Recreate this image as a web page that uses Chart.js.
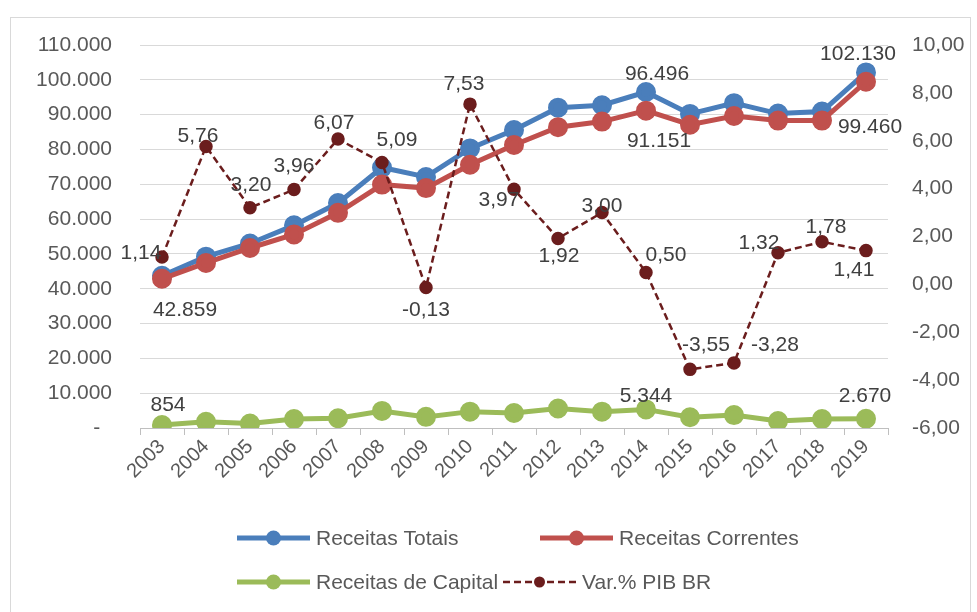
<!DOCTYPE html>
<html>
<head>
<meta charset="utf-8">
<script src="https://cdn.jsdelivr.net/npm/chart.js"></script>
<style>
  html, body { margin: 0; padding: 0; background: #fff; }
  #wrap { width: 977px; height: 612px; }
</style>
</head>
<body>
<div id="wrap"><canvas id="chart" width="977" height="612"></canvas></div>
<script>
// Data - receitas (R$ milhões) and PIB variation, 2003-2019
const years = ['2003', '2004', '2005', '2006', '2007', '2008', '2009', '2010', '2011',
               '2012', '2013', '2014', '2015', '2016', '2017', '2018', '2019'];
const receitasTotais = [43713, 49200, 53000, 58200, 64600, 74800, 72100, 80300, 85600,
                        92000, 92700, 96496, 90200, 93300, 90300, 90900, 102130];
const receitasCorrentes = [42859, 47400, 51700, 55600, 61800, 69900, 68900, 75600, 81300,
                           86400, 88000, 91151, 87100, 89600, 88300, 88300, 99460];
const receitasCapital = [854, 1800, 1300, 2600, 2800, 4900, 3200, 4700, 4300,
                         5600, 4700, 5344, 3100, 3700, 2000, 2600, 2670];
const pibVar = [1.14, 5.76, 3.20, 3.96, 6.07, 5.09, -0.13, 7.53, 3.97,
                1.92, 3.00, 0.50, -3.55, -3.28, 1.32, 1.78, 1.41];

// Axis ranges
const leftMin = 0, leftMax = 110000, leftStep = 10000;
const rightMin = -6, rightMax = 10, rightStep = 2;

// Colours
const blue = '#4a7ebb';
const red = '#c0504d';
const green = '#9bbb59';
const darkRed = '#6b1d1d';

// Data label offsets (dx, dy from the point), keyed by point index
const labelOffsets = {
    0: { 11: [11, -20], 16: [-8, -20] },
    1: { 0: [23, 30], 11: [13, 29], 16: [4, 44] },
    2: { 0: [6, -22], 11: [0, -15], 16: [-1, -24] },
    3: {
        0: [-21, -6], 1: [-8, -12], 2: [1, -24], 3: [0, -25], 4: [-4, -18],
        5: [15, -24], 6: [0, 21], 7: [-6, -22], 8: [-15, 9], 9: [1, 16],
        10: [0, -8], 11: [20, -19], 12: [16, -26], 13: [41, -19], 14: [-19, -11],
        15: [4, -16], 16: [-12, 18]
    }
};

const fmtThousands = v => String(Math.round(v)).replace(/\B(?=(\d{3})+(?!\d))/g, '.');
const fmtPct = v => v.toFixed(2).replace('.', ',');

Chart.defaults.font.family = "'Liberation Sans', Arial, sans-serif";
Chart.defaults.color = '#595959';

// Outer frame
const framePlugin = {
    id: 'frame',
    beforeDraw(chart) {
        const c = chart.ctx;
        c.save();
        c.fillStyle = '#fff';
        c.fillRect(0, 0, chart.width, chart.height);
        c.strokeStyle = '#d9d9d9';
        c.lineWidth = 1;
        c.strokeRect(10.5, 17.5, 960, 640);
        c.restore();
    }
};

// Data labels
const labelPlugin = {
    id: 'pointLabels',
    afterDatasetsDraw(chart) {
        const c = chart.ctx;
        const size = 21;
        c.save();
        c.font = size + "px 'Liberation Sans', Arial, sans-serif";
        c.fillStyle = '#404040';
        c.textAlign = 'center';
        c.textBaseline = 'alphabetic';
        chart.data.datasets.forEach((ds, di) => {
            const meta = chart.getDatasetMeta(di);
            const offs = labelOffsets[di];
            Object.keys(offs).forEach(k => {
                const i = +k;
                const pt = meta.data[i];
                const v = ds.data[i];
                const txt = di === 3 ? fmtPct(v) : fmtThousands(v);
                c.fillText(txt, pt.x + offs[k][0], pt.y + offs[k][1] + size * 0.36);
            });
        });
        c.restore();
    }
};

// Legend drawn like the spreadsheet one
const legendPlugin = {
    id: 'customLegend',
    afterDraw(chart) {
        const c = chart.ctx;
        const items = [
            { ds: 0, x: 237, y: 538 },
            { ds: 1, x: 540, y: 538 },
            { ds: 2, x: 237, y: 582 },
            { ds: 3, x: 503, y: 582 }
        ];
        c.save();
        c.font = "21px 'Liberation Sans', Arial, sans-serif";
        c.textBaseline = 'middle';
        c.textAlign = 'left';
        items.forEach(it => {
            const ds = chart.data.datasets[it.ds];
            const w = 73;
            c.strokeStyle = ds.borderColor;
            c.lineWidth = ds.borderWidth;
            c.setLineDash(ds.borderDash || []);
            c.beginPath();
            c.moveTo(it.x, it.y);
            c.lineTo(it.x + w, it.y);
            c.stroke();
            c.setLineDash([]);
            c.fillStyle = ds.pointBackgroundColor;
            c.beginPath();
            c.arc(it.x + w / 2, it.y, ds.pointRadius, 0, Math.PI * 2);
            c.fill();
            c.fillStyle = '#595959';
            c.fillText(ds.label, it.x + w + 6, it.y + 1);
        });
        c.restore();
    }
};

const ctx = document.getElementById('chart').getContext('2d');
const chart = new Chart(ctx, {
    type: 'line',
    data: {
        labels: years,
        datasets: [{
            label: 'Receitas Totais',
            data: receitasTotais,
            yAxisID: 'y',
            borderColor: blue,
            backgroundColor: blue,
            pointBackgroundColor: blue,
            pointBorderColor: blue,
            borderWidth: 5,
            pointRadius: 7.5,
            tension: 0,
            order: 3
        }, {
            label: 'Receitas Correntes',
            data: receitasCorrentes,
            yAxisID: 'y',
            borderColor: red,
            backgroundColor: red,
            pointBackgroundColor: red,
            pointBorderColor: red,
            borderWidth: 5,
            pointRadius: 7.5,
            tension: 0,
            order: 2
        }, {
            label: 'Receitas de Capital',
            data: receitasCapital,
            yAxisID: 'y',
            borderColor: green,
            backgroundColor: green,
            pointBackgroundColor: green,
            pointBorderColor: green,
            borderWidth: 5,
            pointRadius: 7.5,
            tension: 0,
            order: 1
        }, {
            label: 'Var.% PIB BR',
            data: pibVar,
            yAxisID: 'y1',
            borderColor: darkRed,
            backgroundColor: darkRed,
            pointBackgroundColor: darkRed,
            pointBorderColor: darkRed,
            borderWidth: 2.5,
            borderDash: [7, 4],
            pointRadius: 5.5,
            tension: 0,
            order: 0
        }]
    },
    options: {
        responsive: false,
        animation: false,
        layout: { padding: { top: 45, left: 0, right: 0, bottom: 0 } },
        plugins: {
            legend: { display: false },
            tooltip: { enabled: false }
        },
        scales: {
            x: {
                offset: true,
                grid: {
                    offset: true,
                    drawOnChartArea: false,
                    drawTicks: true,
                    tickLength: 7,
                    color: '#bfbfbf'
                },
                border: { display: true, color: '#bfbfbf', width: 1 },
                ticks: {
                    minRotation: 45,
                    maxRotation: 45,
                    padding: 0,
                    font: { size: 20 },
                    color: '#595959'
                },
                afterFit(axis) { axis.height = 612 - 428; }
            },
            y: {
                position: 'left',
                min: leftMin,
                max: leftMax,
                grid: { color: '#d9d9d9', drawTicks: false },
                border: { display: false },
                ticks: {
                    stepSize: leftStep,
                    padding: 28,
                    font: { size: 21 },
                    color: '#595959',
                    callback: v => v === 0 ? '-  ' : fmtThousands(v)
                },
                afterFit(axis) { axis.width = 140; }
            },
            y1: {
                position: 'right',
                min: rightMin,
                max: rightMax,
                grid: { drawOnChartArea: false, drawTicks: false },
                border: { display: false },
                ticks: {
                    stepSize: rightStep,
                    padding: 24,
                    font: { size: 21 },
                    color: '#595959',
                    callback: v => fmtPct(v)
                },
                afterFit(axis) { axis.width = 977 - 888; }
            }
        }
    },
    plugins: [framePlugin, labelPlugin, legendPlugin]
});
</script>
</body>
</html>
